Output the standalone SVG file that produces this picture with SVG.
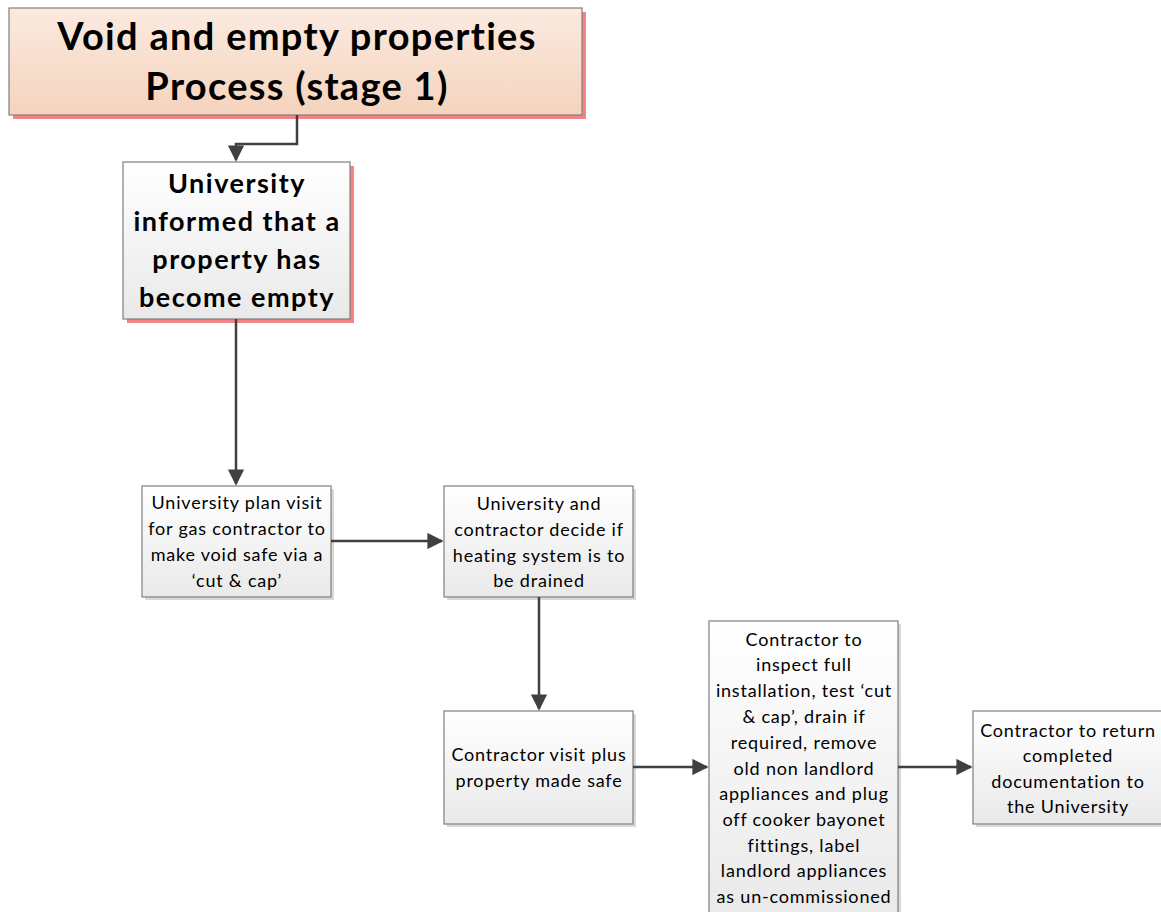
<svg xmlns="http://www.w3.org/2000/svg" width="1161" height="912" viewBox="0 0 1161 912">
  <defs>
    <linearGradient id="peach" x1="0" y1="0" x2="0" y2="1">
      <stop offset="0" stop-color="#fbeae0"/>
      <stop offset="1" stop-color="#f5d3bd"/>
    </linearGradient>
    <linearGradient id="grey" x1="0" y1="0" x2="0" y2="1">
      <stop offset="0" stop-color="#ffffff"/>
      <stop offset="1" stop-color="#e9e9e9"/>
    </linearGradient>
    <marker id="arrow" viewBox="0 0 10 10" refX="9" refY="5" markerWidth="6.5" markerHeight="6.5" markerUnits="strokeWidth" orient="auto">
      <path d="M0,0 L10,5 L0,10 Z" fill="#404040"/>
    </marker>
    <style>
      .box { stroke: #7f7f7f; stroke-width: 1.2; fill: url(#grey); }
      .title { stroke: #7f7f7f; stroke-width: 1.2; fill: url(#peach); }
      .shadow-pink { fill: #f48484; }
      .shadow-grey { fill: #d9d9d9; }
      .edge { stroke: #404040; stroke-width: 2.5; fill: none; marker-end: url(#arrow); }
      text { font-family: Lato, "Open Sans", "Liberation Sans", sans-serif; fill: #000; text-anchor: middle; }
      .big { font-size: 38px; font-weight: bold; letter-spacing: 1.3px; }
      .bold { font-size: 27px; font-weight: bold; letter-spacing: 1.5px; }
      .small { font-size: 18px; letter-spacing: 0.8px; }
    </style>
  </defs>

  <g id="title">
    <rect class="shadow-pink" x="13" y="12" width="573" height="107"/>
    <rect class="title" x="9" y="8" width="573" height="107"/>
    <text class="big" x="297" y="50">Void and empty properties</text>
    <text class="big" x="297" y="100">Process (stage 1)</text>
  </g>

  <g id="informed">
    <rect class="shadow-pink" x="127" y="166" width="227" height="157"/>
    <rect class="box" x="123" y="162" width="227" height="157"/>
    <text class="bold" x="237" y="193">University</text>
    <text class="bold" x="237" y="231">informed that a</text>
    <text class="bold" x="237" y="269">property has</text>
    <text class="bold" x="237" y="307">become empty</text>
  </g>

  <g id="plan-visit">
    <rect class="shadow-grey" x="145" y="489" width="189" height="111"/>
    <rect class="box" x="142" y="486" width="189" height="111"/>
    <text class="small" x="237" y="509">University plan visit</text>
    <text class="small" x="237" y="535">for gas contractor to</text>
    <text class="small" x="237" y="561">make void safe via a</text>
    <text class="small" x="237" y="587">‘cut &amp; cap’</text>
  </g>

  <g id="decide-drain">
    <rect class="shadow-grey" x="447" y="489" width="189" height="111"/>
    <rect class="box" x="444" y="486" width="189" height="111"/>
    <text class="small" x="539" y="510">University and</text>
    <text class="small" x="539" y="536">contractor decide if</text>
    <text class="small" x="539" y="562">heating system is to</text>
    <text class="small" x="539" y="587">be drained</text>
  </g>

  <g id="visit-safe">
    <rect class="shadow-grey" x="447" y="714" width="189" height="113"/>
    <rect class="box" x="444" y="711" width="189" height="113"/>
    <text class="small" x="539" y="761">Contractor visit plus</text>
    <text class="small" x="539" y="787">property made safe</text>
  </g>

  <g id="inspect">
    <rect class="shadow-grey" x="712" y="624" width="189" height="300"/>
    <rect class="box" x="709" y="621" width="189" height="300"/>
    <text class="small" x="804" y="646">Contractor to</text>
    <text class="small" x="804" y="671">inspect full</text>
    <text class="small" x="804" y="697">installation, test ‘cut</text>
    <text class="small" x="804" y="723">&amp; cap’, drain if</text>
    <text class="small" x="804" y="749">required, remove</text>
    <text class="small" x="804" y="775">old non landlord</text>
    <text class="small" x="804" y="800">appliances and plug</text>
    <text class="small" x="804" y="826">off cooker bayonet</text>
    <text class="small" x="804" y="852">fittings, label</text>
    <text class="small" x="804" y="877">landlord appliances</text>
    <text class="small" x="804" y="903">as un-commissioned</text>
  </g>

  <g id="return-docs">
    <rect class="shadow-grey" x="976" y="714" width="189" height="113"/>
    <rect class="box" x="973" y="711" width="189" height="113"/>
    <text class="small" x="1068" y="737">Contractor to return</text>
    <text class="small" x="1068" y="762">completed</text>
    <text class="small" x="1068" y="788">documentation to</text>
    <text class="small" x="1068" y="813">the University</text>
  </g>

  <g id="connectors">
    <path class="edge" d="M297,115 V144 H236 V160"/>
    <path class="edge" d="M236,319 V484"/>
    <path class="edge" d="M331,541 H442"/>
    <path class="edge" d="M539,597 V709"/>
    <path class="edge" d="M633,767 H707"/>
    <path class="edge" d="M898,767 H971"/>
  </g>
</svg>
